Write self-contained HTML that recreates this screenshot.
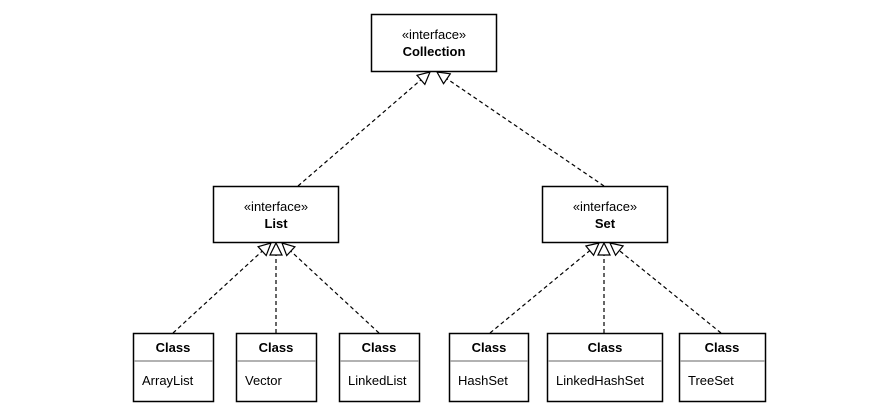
<!DOCTYPE html>
<html><head><meta charset="utf-8"><style>
html,body{margin:0;padding:0;background:#fff;}
svg{display:block;}
text{font-family:"Liberation Sans","DejaVu Sans",sans-serif;fill:#000;}
</style></head><body>
<svg width="892" height="417" viewBox="0 0 892 417" xmlns="http://www.w3.org/2000/svg">
<defs>
<marker id="tri" viewBox="0 0 14 14" refX="13" refY="7" markerWidth="14" markerHeight="14" markerUnits="userSpaceOnUse" orient="auto">
<path d="M1,1 L13,7 L1,13 Z" fill="#fff" stroke="#000" stroke-width="1.2"/>
</marker>
</defs>
<g fill="#fff" stroke="#000" stroke-width="1.5">
<rect x="371.5" y="14.5" width="125" height="57"/>
<rect x="213.5" y="186.5" width="125" height="56"/>
<rect x="542.5" y="186.5" width="125" height="56"/>
<rect x="133.5" y="333.5" width="80" height="68"/>
<rect x="236.5" y="333.5" width="80" height="68"/>
<rect x="339.5" y="333.5" width="80" height="68"/>
<rect x="449.5" y="333.5" width="79" height="68"/>
<rect x="547.5" y="333.5" width="115" height="68"/>
<rect x="679.5" y="333.5" width="86" height="68"/>
</g>
<g stroke="#999" stroke-width="1.5">
<line x1="134" y1="361" x2="213" y2="361"/>
<line x1="237" y1="361" x2="316" y2="361"/>
<line x1="340" y1="361" x2="419" y2="361"/>
<line x1="450" y1="361" x2="528" y2="361"/>
<line x1="548" y1="361" x2="662" y2="361"/>
<line x1="680" y1="361" x2="765" y2="361"/>
</g>
<g stroke="#000" stroke-width="1.2" stroke-dasharray="4,3" fill="none" marker-end="url(#tri)">
<line x1="298" y1="186" x2="430" y2="72"/>
<line x1="604" y1="186" x2="437" y2="72"/>
<line x1="173" y1="333" x2="271" y2="243"/>
<line x1="276" y1="333" x2="276" y2="243"/>
<line x1="379" y1="333" x2="282" y2="243"/>
<line x1="490" y1="333" x2="599" y2="243"/>
<line x1="604" y1="333" x2="604" y2="243"/>
<line x1="721" y1="333" x2="610" y2="243"/>
</g>
<g font-size="13" text-anchor="middle">
<text x="434" y="39">«interface»</text>
<text x="434" y="56" font-weight="bold">Collection</text>
<text x="276" y="211">«interface»</text>
<text x="276" y="228" font-weight="bold">List</text>
<text x="605" y="211">«interface»</text>
<text x="605" y="228" font-weight="bold">Set</text>
<g font-weight="bold">
<text x="173" y="352">Class</text>
<text x="276" y="352">Class</text>
<text x="379" y="352">Class</text>
<text x="489" y="352">Class</text>
<text x="605" y="352">Class</text>
<text x="722" y="352">Class</text>
</g>
</g>
<g font-size="13">
<text x="142" y="385">ArrayList</text>
<text x="245" y="385">Vector</text>
<text x="348" y="385">LinkedList</text>
<text x="458" y="385">HashSet</text>
<text x="556" y="385">LinkedHashSet</text>
<text x="688" y="385">TreeSet</text>
</g>
</svg>
</body></html>
